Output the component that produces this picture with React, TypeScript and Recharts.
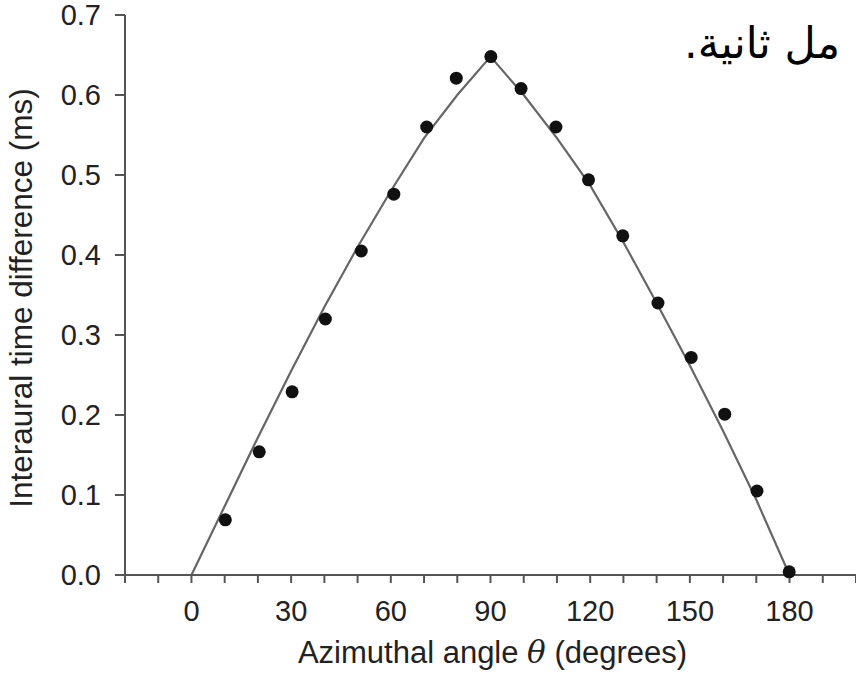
import React from 'react';
import { ComposedChart, Line, Scatter, XAxis, YAxis } from 'recharts';

// theoretical curve, every 10 degrees
const curveAngles = [0, 10, 20, 30, 40, 50, 60, 70, 80, 90, 100, 110, 120, 130, 140, 150, 160, 170, 180];
const curveItd = [0, 0.086, 0.172, 0.255, 0.335, 0.41, 0.48, 0.546, 0.6, 0.648, 0.6, 0.546, 0.487, 0.416, 0.34, 0.262, 0.18, 0.094, 0];

// measured points
const measuredAngles = [10.2, 20.4, 30.3, 40.3, 51.1, 60.9, 70.8, 79.7, 90.1, 99.2, 109.7, 119.5, 129.8, 140.4, 150.4, 160.5, 170.2, 179.9];
const measuredItd = [0.069, 0.154, 0.229, 0.32, 0.405, 0.476, 0.56, 0.621, 0.648, 0.608, 0.56, 0.494, 0.424, 0.34, 0.272, 0.201, 0.105, 0.004];

const xTicks = [-20, -10, 0, 10, 20, 30, 40, 50, 60, 70, 80, 90, 100, 110, 120, 130, 140, 150, 160, 170, 180, 190, 200];
const xLabeled = [0, 30, 60, 90, 120, 150, 180];
const yTicks = [0, 0.1, 0.2, 0.3, 0.4, 0.5, 0.6, 0.7];

const yLabel = 'Interaural time difference (ms)';
const note = 'مل ثانية.';

const curve = curveAngles.map((x, i) => ({ x, y: curveItd[i] }));
const measured = measuredAngles.map((x, i) => ({ x, y: measuredItd[i] }));

const FONT = '"Liberation Sans", Arial, Helvetica, sans-serif';
const AXIS = '#555';

export default function App() {
  return (
    <div style={{ position: 'absolute', left: 0, top: 0, width: 856, height: 673, background: '#fff' }}>
      <ComposedChart
        width={856}
        height={673}
        margin={{ top: 15, right: 0, bottom: 0, left: 0 }}
        style={{ fontFamily: FONT }}
      >
        <XAxis
          dataKey="x"
          type="number"
          domain={[-20, 200]}
          ticks={xTicks}
          interval={0}
          allowDataOverflow
          height={98}
          stroke={AXIS}
          strokeWidth={2}
          tickSize={8}
          tickMargin={17}
          tickLine={{ stroke: AXIS, strokeWidth: 2 }}
          tick={{ fill: '#222', fontSize: 29 }}
          tickFormatter={(v: number) => (xLabeled.includes(v) ? String(v) : '')}
          label={{
            content: ({ viewBox }: any) => (
              <text
                x={viewBox.x + viewBox.width / 2 + 2}
                y={viewBox.y + 88}
                textAnchor="middle"
                fill="#222"
                fontSize={31}
                fontFamily={FONT}
              >
                Azimuthal angle <tspan fontStyle="italic" fontFamily='"DejaVu Serif", serif'>θ</tspan> (degrees)
              </text>
            ),
          }}
        />
        <YAxis
          type="number"
          domain={[0, 0.7]}
          ticks={yTicks}
          interval={0}
          width={125}
          stroke={AXIS}
          strokeWidth={2}
          tickSize={10}
          tickMargin={14}
          tickLine={{ stroke: AXIS, strokeWidth: 2 }}
          tick={{ fill: '#222', fontSize: 29 }}
          tickFormatter={(v: number) => v.toFixed(1)}
          label={{
            content: ({ viewBox }: any) => {
              const cx = 32;
              const cy = viewBox.y + viewBox.height / 2 + 3;
              return (
                <text
                  x={cx}
                  y={cy}
                  transform={`rotate(-90 ${cx} ${cy})`}
                  textAnchor="middle"
                  fill="#222"
                  fontSize={31.5}
                  fontFamily={FONT}
                >
                  {yLabel}
                </text>
              );
            },
          }}
        />
        <Line
          data={curve}
          dataKey="y"
          type="linear"
          stroke="#666"
          strokeWidth={2.2}
          dot={false}
          activeDot={false}
          isAnimationActive={false}
        />
        <Scatter data={measured} dataKey="y" fill="#111" isAnimationActive={false}
          shape={(p: any) => <circle cx={p.cx} cy={p.cy} r={6.5} fill="#111" />}
        />
      </ComposedChart>
      <svg width={856} height={673} style={{ position: 'absolute', left: 0, top: 0, pointerEvents: 'none' }}>
        <text x={840} y={58} textAnchor="start" direction="rtl" fontSize={43} fill="#000" fontFamily='"DejaVu Sans", sans-serif'>
          {note}
        </text>
      </svg>
    </div>
  );
}
